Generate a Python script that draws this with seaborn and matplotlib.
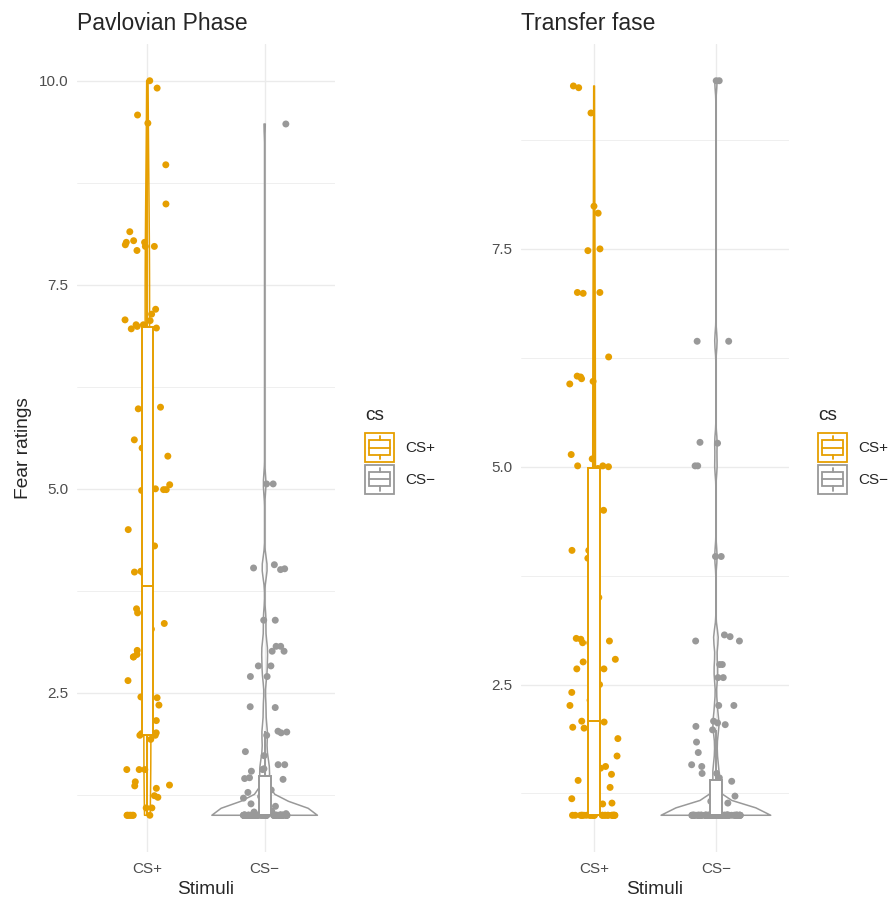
"""
Fear ratings per stimulus in the Pavlovian and transfer phases:
violin + narrow box + jittered points, one panel per phase.
"""

import matplotlib

matplotlib.use("Agg")
import matplotlib.pyplot as plt
import numpy as np
import pandas as pd
import seaborn as sns
from matplotlib.legend_handler import HandlerBase
from matplotlib.lines import Line2D
from matplotlib.patches import Patch, Rectangle

CATEGORIES = ["CS+", "CS\u2212"]
PALETTE = {"CS+": "#E69F00", "CS\u2212": "#999999"}

# Pavlovian phase, ratings (values sitting on the floor
# of the scale are kept as a count)
PAV_CSPLUS = [
    10.0, 9.91, 9.58, 9.48, 8.97, 8.49, 8.15, 8.04, 8.02, 8.02,
    7.99, 7.97, 7.97, 7.92, 7.20, 7.14, 7.07, 7.06, 7.01, 7.01,
    6.99, 6.97, 6.96, 6.96, 6.53, 6.00, 5.98, 5.60, 5.50, 5.40,
    5.05, 5.00, 4.99, 4.99, 4.98, 4.50, 4.30, 4.12, 3.99, 3.98,
    3.97, 3.81, 3.53, 3.48, 3.43, 3.35, 3.28, 3.02, 2.97, 2.95,
    2.94, 2.94, 2.69, 2.65, 2.46, 2.45, 2.44, 2.35, 2.16, 2.01,
    2.00, 1.98, 1.98, 1.93, 1.56, 1.56, 1.56, 1.41, 1.37, 1.36,
    1.33, 1.24, 1.22, 1.09, 1.09,
]
PAV_CSPLUS_FLOOR = 8
PAV_CSMINUS = [
    9.47, 5.06, 5.06, 4.07, 4.03, 4.02, 4.01, 3.39, 3.39, 3.07,
    3.07, 3.01, 3.01, 2.83, 2.83, 2.70, 2.70, 2.33, 2.32, 2.03,
    2.02, 2.01, 1.98, 1.78, 1.73, 1.62, 1.62, 1.57, 1.56, 1.54,
    1.46, 1.45, 1.44, 1.31, 1.28, 1.23, 1.21, 1.14, 1.11, 1.05,
    1.04, 1.04, 1.03, 1.02, 1.02,
]
PAV_CSMINUS_FLOOR = 75

# Transfer phase
TRANS_CSPLUS = [
    9.37, 9.35, 9.06, 7.99, 7.91, 7.50, 7.48, 7.00, 7.00, 6.99,
    6.26, 6.04, 6.03, 6.01, 5.98, 5.95, 5.14, 5.09, 5.01, 5.01,
    5.00, 4.98, 4.50, 4.04, 4.04, 3.96, 3.95, 3.50, 3.03, 3.02,
    3.00, 2.98, 2.98, 2.79, 2.76, 2.68, 2.68, 2.62, 2.50, 2.41,
    2.32, 2.26, 2.08, 2.07, 2.01, 2.00, 1.88, 1.68, 1.60, 1.56,
    1.54, 1.53, 1.47, 1.40, 1.32, 1.19, 1.14, 1.13, 1.09,
]
TRANS_CSPLUS_FLOOR = 26
TRANS_CSMINUS = [
    9.43, 9.43, 6.44, 6.44, 5.28, 5.27, 5.01, 5.01, 3.97, 3.97,
    3.07, 3.05, 3.00, 3.00, 2.73, 2.73, 2.58, 2.58, 2.26, 2.26,
    2.08, 2.06, 2.04, 2.02, 1.98, 1.84, 1.72, 1.58, 1.56, 1.48,
    1.48, 1.43, 1.39, 1.30, 1.22, 1.16, 1.14, 1.10,
]
TRANS_CSMINUS_FLOOR = 90

PAV_YTICKS = [2.5, 5.0, 7.5, 10.0]
PAV_YTICK_LABELS = ["2.5", "5.0", "7.5", "10.0"]
TRANS_YTICKS = [2.5, 5.0, 7.5]
TRANS_YTICK_LABELS = ["2.5", "5.0", "7.5"]
MINOR_YTICKS = [1.25, 3.75, 6.25, 8.75]

FLOOR = 1.0
GRID = "#EBEBEB"
TEXT_GREY = "#4D4D4D"

sns.set_theme(style="white")
plt.rcParams["font.family"] = ["Liberation Sans", "DejaVu Sans"]


def nrd0(kde):
    """R's default bandwidth rule, expressed as a gaussian_kde factor."""
    x = kde.dataset[0]
    sd = x.std(ddof=1)
    q75, q25 = np.percentile(x, [75, 25])
    h = 0.9 * min(sd, (q75 - q25) / 1.34) * len(x) ** -0.2
    return h / sd


def build_frame(plus, plus_floor, minus, minus_floor):
    plus_all = plus + [FLOOR] * plus_floor
    minus_all = minus + [FLOOR] * minus_floor
    return pd.DataFrame({
        "cs": [CATEGORIES[0]] * len(plus_all) + [CATEGORIES[1]] * len(minus_all),
        "rating": plus_all + minus_all,
    })


class BoxKey(HandlerBase):
    """Legend key like ggplot's violin + boxplot glyph."""

    def create_artists(self, legend, orig_handle, xdescent, ydescent,
                       width, height, fontsize, trans):
        c = orig_handle.get_edgecolor()
        x0, y0 = -xdescent, -ydescent
        lw = 1.3
        bx = x0 + 0.125 * width
        cx = x0 + 0.5 * width
        arts = [
            Rectangle((x0, y0), width, height, fc="white", ec=c, lw=lw),
            Rectangle((bx, y0 + 0.25 * height), 0.75 * width, 0.5 * height,
                      fc="white", ec=c, lw=lw),
            Line2D([bx, bx + 0.75 * width], [y0 + 0.5 * height] * 2, color=c, lw=lw),
            Line2D([cx, cx], [y0 + 0.1 * height, y0 + 0.25 * height], color=c, lw=lw),
            Line2D([cx, cx], [y0 + 0.75 * height, y0 + 0.9 * height], color=c, lw=lw),
        ]
        for a in arts:
            a.set_transform(trans)
        return arts


def draw_phase(ax, df, title, yticks, ytick_labels, ylabel, legend_x, fig):
    # common_norm keeps one width scale for both violins (ggplot's scale="area")
    sns.violinplot(
        data=df, x="cs", y="rating", hue="cs", order=CATEGORIES,
        hue_order=CATEGORIES, palette=PALETTE, fill=False, inner=None,
        cut=0, width=0.9, density_norm="area", common_norm=True,
        bw_method=nrd0, linewidth=1.1, legend=False, ax=ax, zorder=1,
    )
    sns.stripplot(
        data=df, x="cs", y="rating", hue="cs", order=CATEGORIES,
        hue_order=CATEGORIES, palette=PALETTE, jitter=0.2, size=5,
        linewidth=0, legend=False, ax=ax, zorder=2,
    )
    for cat in CATEGORIES:
        sns.boxplot(
            data=df[df["cs"] == cat], x="cs", y="rating", order=CATEGORIES,
            color=PALETTE[cat], linecolor=PALETTE[cat], width=0.1,
            showcaps=False, showfliers=False, linewidth=1.4,
            boxprops={"facecolor": "white"}, ax=ax, zorder=3,
        )

    lo, hi = df["rating"].min(), df["rating"].max()
    pad = 0.05 * (hi - lo)
    ax.set_xlim(-0.6, 1.6)
    ax.set_ylim(lo - pad, hi + pad)
    ax.set_yticks(yticks, ytick_labels)
    ax.set_yticks(MINOR_YTICKS, minor=True)
    ax.grid(True, which="major", color=GRID, linewidth=1.0)
    ax.grid(True, which="minor", axis="y", color=GRID, linewidth=0.55)
    ax.set_axisbelow(True)
    ax.tick_params(which="both", length=0, labelsize=11, labelcolor=TEXT_GREY)
    ax.tick_params(axis="x", pad=7)
    ax.tick_params(axis="y", pad=6)
    for spine in ax.spines.values():
        spine.set_visible(False)

    ax.set_title(title, loc="left", fontsize=16.5, pad=10)
    ax.set_xlabel("Stimuli", fontsize=13.75, labelpad=4)
    ax.set_ylabel(ylabel, fontsize=13.75, labelpad=5)

    # legend title drawn on its own so the gap above the keys matches ggplot
    fig.text(legend_x, 1 - 420 / 899, "cs", fontsize=13.75, va="baseline", ha="left")
    handles = [Patch(facecolor="white", edgecolor=PALETTE[c]) for c in CATEGORIES]
    ax.legend(
        handles, CATEGORIES, handler_map={Patch: BoxKey()},
        loc="upper left", bbox_to_anchor=(legend_x, 1 - 433 / 899),
        bbox_transform=fig.transFigure, frameon=False,
        fontsize=11, handlelength=1.9, handleheight=2.55,
        labelspacing=0.17, handletextpad=0.75, borderpad=0, borderaxespad=0,
    )


def main():
    np.random.seed(3)
    fig = plt.figure(figsize=(8.9, 8.99), dpi=100)
    ax_pav = fig.add_axes([77 / 890, 47 / 899, 258 / 890, 808 / 899])
    ax_tr = fig.add_axes([521 / 890, 47 / 899, 268 / 890, 808 / 899])

    pav = build_frame(PAV_CSPLUS, PAV_CSPLUS_FLOOR, PAV_CSMINUS, PAV_CSMINUS_FLOOR)
    trans = build_frame(TRANS_CSPLUS, TRANS_CSPLUS_FLOOR, TRANS_CSMINUS, TRANS_CSMINUS_FLOOR)

    draw_phase(ax_pav, pav, "Pavlovian Phase", PAV_YTICKS, PAV_YTICK_LABELS,
               "Fear ratings", 365 / 890, fig)
    draw_phase(ax_tr, trans, "Transfer fase", TRANS_YTICKS, TRANS_YTICK_LABELS,
               "", 818 / 890, fig)

    fig.savefig("out.png", dpi=100, facecolor="white")
    plt.close(fig)


if __name__ == "__main__":
    main()
